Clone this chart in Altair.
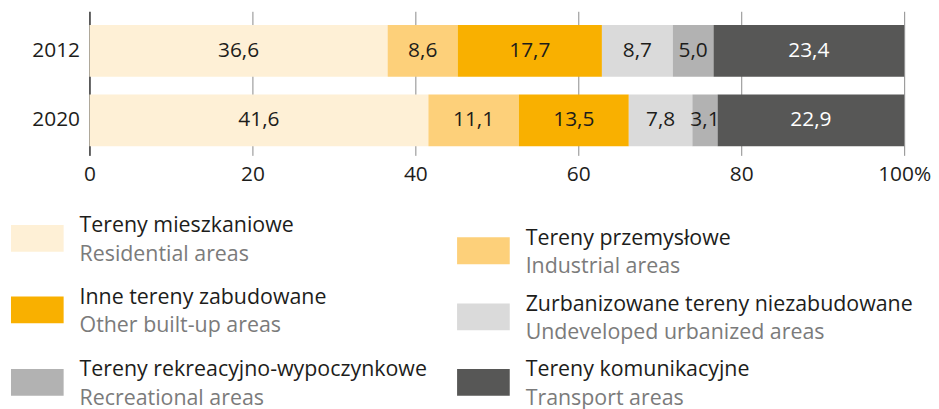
import altair as alt
import pandas as pd

years = ["2012", "2020"]
categories_pl = [
    "Tereny mieszkaniowe",
    "Tereny przemysłowe",
    "Inne tereny zabudowane",
    "Zurbanizowane tereny niezabudowane",
    "Tereny rekreacyjno-wypoczynkowe",
    "Tereny komunikacyjne",
]
categories_en = [
    "Residential areas",
    "Industrial areas",
    "Other built-up areas",
    "Undeveloped urbanized areas",
    "Recreational areas",
    "Transport areas",
]
values_2012 = [36.6, 8.6, 17.7, 8.7, 5.0, 23.4]
values_2020 = [41.6, 11.1, 13.5, 7.8, 3.1, 22.9]
colors = ["#FEF0D6", "#FDD07A", "#F9B000", "#DADADA", "#B2B2B2", "#575756"]
x_ticks = [0, 20, 40, 60, 80, 100]

FONT = "Open Sans"

rows = []
for year, vals in zip(years, [values_2012, values_2020]):
    for i, v in enumerate(vals):
        rows.append({"year": year, "idx": i, "cat": categories_pl[i], "value": v, "color": colors[i]})
bars_df = pd.DataFrame(rows)

leg_df = pd.DataFrame({
    "idx": list(range(len(categories_pl))),
    "pl": categories_pl,
    "en": categories_en,
    "color": colors,
})

y_scale = alt.Scale(domain=years, paddingInner=0.257, paddingOuter=0.164, align=0.6)
x_scale = alt.Scale(domain=[0, 100], nice=False, zero=True)

base = alt.Chart(bars_df).transform_stack(
    stack="value", as_=["x0", "x1"], groupby=["year"], sort=[alt.SortField("idx")]
).transform_calculate(
    mid="(datum.x0 + datum.x1) / 2",
    label="replace(format(datum.value, '.1f'), '.', ',')",
)

bars = base.mark_bar(size=52).encode(
    y=alt.Y("year:N", scale=y_scale, sort=years,
            axis=alt.Axis(title=None, ticks=False, domain=True, domainColor="#000000",
                          domainWidth=1, labelPadding=10, labelFont=FONT, labelFontSize=21,
                          labelColor="#1d1d1b", grid=False)),
    x=alt.X("x0:Q", scale=x_scale,
            axis=alt.Axis(title=None, values=x_ticks, grid=True, gridColor="#8a8a8a",
                          gridWidth=1, ticks=False, domain=False, labelPadding=8,
                          labelFlush=False,
                          labelFont=FONT, labelFontSize=21, labelColor="#1d1d1b",
                          labelExpr="datum.value == 100 ? '100%' : datum.label")),
    x2="x1:Q",
    color=alt.Color("color:N", scale=None),
)

labels = base.mark_text(font=FONT, fontSize=21, baseline="middle", align="center").encode(
    y=alt.Y("year:N", scale=y_scale, sort=years),
    x=alt.X("mid:Q", scale=x_scale),
    text="label:N",
    color=alt.condition(alt.datum.idx == 5, alt.value("#ffffff"), alt.value("#1d1d1b")),
)

bar_layer = alt.layer(bars, labels)

# legend layout (two columns, items laid out row by row)
leg_base = alt.Chart(leg_df).transform_calculate(
    lx="(datum.idx % 2) * 449",
    ly="[228.5, 241, 300.5, 307.5, 373.5, 373.5][datum.idx]",
    lx2="datum.lx + 53",
    ly0="datum.ly - 13.5",
    ly1="datum.ly + 13.5",
    tx="datum.lx + 69",
)
lx_scale = alt.Scale(domain=[0, 449], range=[-79, 370], nice=False, zero=False)
ly_scale = alt.Scale(domain=[0, 100], range=[0, 100], nice=False, zero=False)

swatches = leg_base.mark_rect().encode(
    x=alt.X("lx:Q", scale=lx_scale, axis=None),
    x2="lx2:Q",
    y=alt.Y("ly0:Q", scale=ly_scale, axis=None),
    y2="ly1:Q",
    color=alt.Color("color:N", scale=None),
)
pl_text = leg_base.mark_text(font=FONT, fontSize=21.5, align="left", baseline="alphabetic",
                             dy=-6, color="#1d1d1b").encode(
    x=alt.X("tx:Q", scale=lx_scale, axis=None),
    y=alt.Y("ly:Q", scale=ly_scale, axis=None),
    text="pl:N",
)
en_text = leg_base.mark_text(font=FONT, fontSize=21.5, align="left", baseline="alphabetic",
                             dy=22.5, color="#7b7b7b").encode(
    x=alt.X("tx:Q", scale=lx_scale, axis=None),
    y=alt.Y("ly:Q", scale=ly_scale, axis=None),
    text="en:N",
)
legend_layer = alt.layer(swatches, pl_text, en_text)

chart = alt.layer(bar_layer, legend_layer).resolve_scale(
    x="independent", y="independent"
).properties(
    width=820, height=145,
    padding={"left": 3, "top": 2, "right": 0, "bottom": 0},
).configure_view(stroke=None)

chart.save("out.html", embed_options={"renderer": "svg", "actions": False})
